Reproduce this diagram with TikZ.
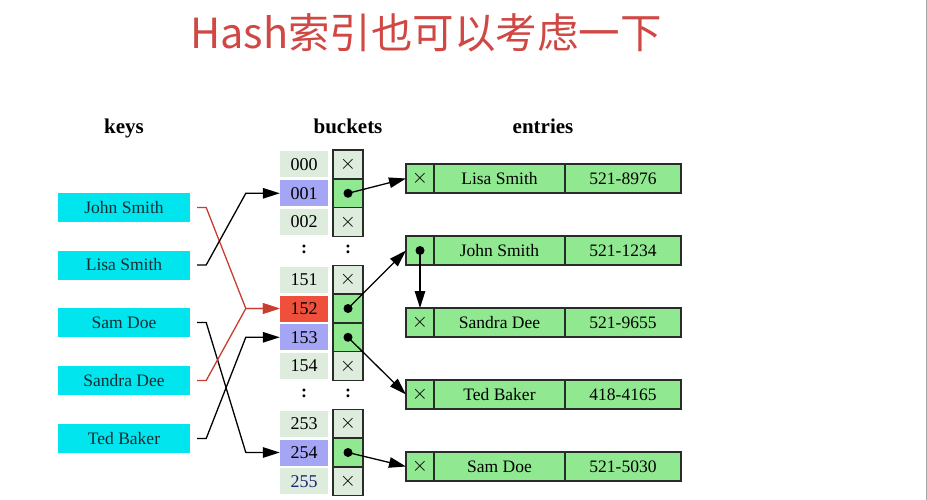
\documentclass[tikz,border=0pt]{standalone}
\usepackage{fontspec}
\usepackage{tikz}
\usetikzlibrary{arrows.meta,positioning}
\setmainfont{Liberation Serif}
\newfontfamily\cjk{Noto Sans CJK SC}

\definecolor{titlered}{RGB}{208,72,68}
\definecolor{keycyan}{RGB}{0,229,238}
\definecolor{keytext}{RGB}{25,45,50}
\definecolor{numgray}{RGB}{221,236,221}
\definecolor{numblue}{RGB}{165,165,245}
\definecolor{numred}{RGB}{238,80,60}
\definecolor{navytext}{RGB}{30,35,110}
\definecolor{entrygreen}{RGB}{144,232,144}
\definecolor{linkred}{RGB}{200,62,48}
\definecolor{framegray}{RGB}{40,45,40}

\tikzset{
  keybox/.style={fill=keycyan, text=keytext, minimum width=132, minimum height=29,
    inner sep=0pt, font=\fontsize{17.5}{20}\selectfont},
  numcell/.style={fill=numgray, minimum width=48, minimum height=26,
    inner sep=0pt, font=\fontsize{18}{20}\selectfont},
  ptrcell/.style={draw=framegray, line width=1.4, fill=numgray, minimum width=30,
    minimum height=28.8, inner sep=0pt, outer sep=0pt, font=\fontsize{22}{22}\selectfont},
  fullcell/.style={ptrcell, fill=entrygreen},
  entrycell/.style={draw=framegray, line width=1.4, fill=entrygreen, minimum height=29,
    inner sep=0pt, outer sep=0pt, font=\fontsize{17.5}{20}\selectfont},
  crosscell/.style={entrycell, minimum width=28, font=\fontsize{22}{22}\selectfont},
  head/.style={anchor=base, font=\fontsize{21}{24}\selectfont\bfseries},
  gapdots/.style={font=\fontsize{18}{20}\selectfont\bfseries},
  link/.style={line width=1.3, ->},
}

\begin{document}
\begin{tikzpicture}[x=1pt,y=-1pt,>={Triangle[length=17pt,width=10.5pt]}]
        \useasboundingbox (0,0) rectangle (927,500);
        \fill[white] (0,0) rectangle (927,500);
        \draw[gray!70, line width=1] (926.5,0) -- (926.5,500);
        % Titel
        \node[anchor=base, text=titlered, font=\cjk\fontsize{41.5}{46}\selectfont] (title) at (426,49) {Hash索引也可以考虑一下};
        % Kolomkoppen
        \node[head] (keyshead) at (124,134) {keys};
        \node[head] (buckhead) at (348,134) {buckets};
        \node[head] (entrhead) at (543,134) {entries};
        % Keys
        \node[keybox] (john) at (124,207.5) {John Smith};
        \node[keybox] (lisa) at (124,265) {Lisa Smith};
        \node[keybox] (sam) at (124,322.5) {Sam Doe};
        \node[keybox] (sandra) at (124,380.5) {Sandra Dee};
        \node[keybox] (ted) at (124,438.5) {Ted Baker};
        % Buckets 000-002
        \node[numcell] (n000) at (304,164.5) {000};
        \node[ptrcell] (p000) at (348,164.5) {$\times$};
        \node[numcell, fill=numblue] (n001) at (304,193.3) {001};
        \node[fullcell] (p001) at (348,193.3) {};
        \node[numcell] (n002) at (304,222.1) {002};
        \node[ptrcell] (p002) at (348,222.1) {$\times$};
        \node[gapdots] (dotsa) at (304,249) {:};
        \node[gapdots] (dotsb) at (348,249) {:};
        % Buckets 151-154
        \node[numcell] (n151) at (304,279.7) {151};
        \node[ptrcell] (p151) at (348,279.7) {$\times$};
        \node[numcell, fill=numred] (n152) at (304,308.5) {152};
        \node[fullcell] (p152) at (348,308.5) {};
        \node[numcell, fill=numblue] (n153) at (304,337.3) {153};
        \node[fullcell] (p153) at (348,337.3) {};
        \node[numcell] (n154) at (304,366.1) {154};
        \node[ptrcell] (p154) at (348,366.1) {$\times$};
        \node[gapdots] (dotsc) at (304,393) {:};
        \node[gapdots] (dotsd) at (348,393) {:};
        % Buckets 253-255
        \node[numcell] (n253) at (304,423.7) {253};
        \node[ptrcell] (p253) at (348,423.7) {$\times$};
        \node[numcell, fill=numblue] (n254) at (304,452.5) {254};
        \node[fullcell] (p254) at (348,452.5) {};
        \node[numcell, text=navytext] (n255) at (304,481.3) {255};
        \node[ptrcell] (p255) at (348,481.3) {$\times$};
        % Entries
        \node[crosscell] (e1p) at (420,178.5) {$\times$};
        \node[entrycell, minimum width=131, right=0pt of e1p] (e1n) {Lisa Smith};
        \node[entrycell, minimum width=116, right=0pt of e1n] (e1t) {521-8976};
        \node[crosscell] (e2p) at (420,250.5) {};
        \node[entrycell, minimum width=131, right=0pt of e2p] (e2n) {John Smith};
        \node[entrycell, minimum width=116, right=0pt of e2n] (e2t) {521-1234};
        \node[crosscell] (e3p) at (420,322.5) {$\times$};
        \node[entrycell, minimum width=131, right=0pt of e3p] (e3n) {Sandra Dee};
        \node[entrycell, minimum width=116, right=0pt of e3n] (e3t) {521-9655};
        \node[crosscell] (e4p) at (420,394.5) {$\times$};
        \node[entrycell, minimum width=131, right=0pt of e4p] (e4n) {Ted Baker};
        \node[entrycell, minimum width=116, right=0pt of e4n] (e4t) {418-4165};
        \node[crosscell] (e5p) at (420,466.5) {$\times$};
        \node[entrycell, minimum width=131, right=0pt of e5p] (e5n) {Sam Doe};
        \node[entrycell, minimum width=116, right=0pt of e5n] (e5t) {521-5030};
        % Hash: keys naar buckets
        \draw[link, linkred] ([xshift=7]john.east) -- ++(9,0) -- ([xshift=-34]n152.west) -- (n152.west);
        \draw[link] ([xshift=7]lisa.east) -- ++(9,0) -- ([xshift=-34]n001.west) -- (n001.west);
        \draw[link] ([xshift=7]sam.east) -- ++(9,0) -- ([xshift=-34]n254.west) -- (n254.west);
        \draw[link, linkred] ([xshift=7]sandra.east) -- ++(9,0) -- ([xshift=-34]n152.west) -- (n152.west);
        \draw[link] ([xshift=7]ted.east) -- ++(9,0) -- ([xshift=-34]n153.west) -- (n153.west);
        % Pointers naar entries
        \draw[link] (p001.center) -- (e1p.west);
        \draw[link] (p152.center) -- (e2p.west);
        \draw[link] (p153.center) -- (e4p.west);
        \draw[link] (p254.center) -- (e5p.west);
        \draw[link] (e2p.center) -- (e3p.north);
        \foreach \c in {p001,p152,p153,p254,e2p}
          \fill (\c) circle (4.5pt);
    \end{tikzpicture}
\end{document}
